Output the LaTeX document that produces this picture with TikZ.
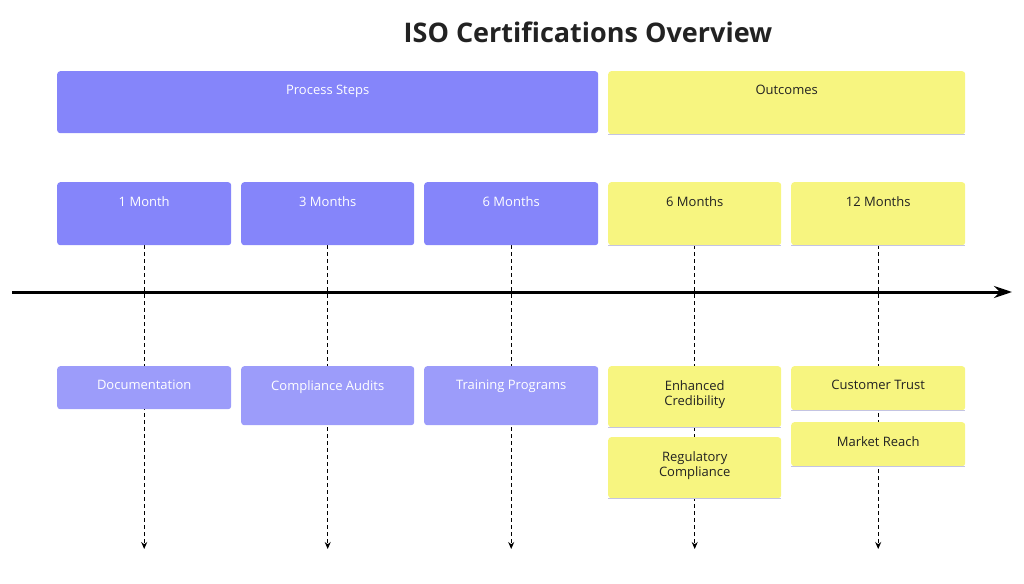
\documentclass[tikz,border=0pt]{standalone}
\usepackage{fontspec}
\setmainfont{Open Sans}
\usetikzlibrary{positioning,backgrounds,arrows.meta}
\definecolor{Purple}{RGB}{133,133,250}
\definecolor{LightPurple}{RGB}{156,156,250}
\definecolor{Yellow}{RGB}{247,245,128}
\definecolor{Edge}{RGB}{196,196,226}
\definecolor{Ink}{RGB}{34,34,34}
\newcommand{\boxtext}[3]{\parbox[t][#1pt][t]{#2pt}{\centering\vspace{14pt}#3}}
\tikzset{
  card/.style={rectangle, inner sep=0pt, anchor=north west, rounded corners=3pt, font=\fontsize{13}{15}\selectfont},
  stepcard/.style={card, fill=Purple, text=white},
  itemcard/.style={card, fill=LightPurple, text=white},
  outcard/.style={card, fill=Yellow, text=Ink, append after command={
      (\tikzlastnode.south west) edge[draw=Edge, line width=1.5pt] (\tikzlastnode.south east)}},
  guide/.style={dash pattern=on 4pt off 3pt, line width=1pt, -{Stealth[length=7pt,width=6pt]}},
}
\begin{document}
\begin{tikzpicture}[x=1pt, y=-1pt]
		\useasboundingbox (0,0) rectangle (1024,583);
		
		% Title
		\node[font=\bfseries\fontsize{27}{30}\selectfont, text=Ink] (title) at (588,32) {ISO Certifications Overview};
		
		% Headers
		\node[stepcard] (steps) at (57,71) {\boxtext{62}{541}{Process Steps}};
		\node[outcard] (outs) at (608,71) {\boxtext{63}{357}{Outcomes}};
		
		% Months
		\node[stepcard] (m1) at (57,182) {\boxtext{63}{174}{1 Month}};
		\node[stepcard] (m3) at (241,182) {\boxtext{63}{173}{3 Months}};
		\node[stepcard] (m6) at (424,182) {\boxtext{63}{174}{6 Months}};
		\node[outcard] (o6) at (608,182) {\boxtext{63}{173}{6 Months}};
		\node[outcard] (o12) at (791,182) {\boxtext{63}{174}{12 Months}};
		
		% Items
		\node[itemcard] (doc) at (57,366) {\boxtext{43}{174}{Documentation}};
		\node[itemcard] (audit) at (241,366) {\boxtext{59}{173}{Compliance Audits}};
		\node[itemcard] (train) at (424,366) {\boxtext{59}{174}{Training Programs}};
		\node[outcard] (cred) at (608,366) {\boxtext{61}{173}{Enhanced\\Credibility}};
		\node[outcard] (reg) at (608,437) {\boxtext{61}{173}{Regulatory\\Compliance}};
		\node[outcard] (trust) at (791,366) {\boxtext{44}{174}{Customer Trust}};
		\node[outcard] (reach) at (791,422) {\boxtext{44}{174}{Market Reach}};
		
		% Ends
		\coordinate (axisL) at (12,292);
		\coordinate (axisR) at (1012,292);
		\coordinate (e1) at (m1.south |- 0,549);
		\coordinate (e3) at (m3.south |- 0,549);
		\coordinate (e6) at (m6.south |- 0,549);
		\coordinate (f6) at (o6.south |- 0,549);
		\coordinate (f12) at (o12.south |- 0,549);
		
		% Flow
		\begin{scope}[on background layer]
			\draw[guide] (m1.south) -- (e1);
			\draw[guide] (m3.south) -- (e3);
			\draw[guide] (m6.south) -- (e6);
			\draw[guide] (o6.south) -- (f6);
			\draw[guide] (o12.south) -- (f12);
		\end{scope}
		\draw[line width=3pt, -{Stealth[length=18pt,width=12pt]}] (axisL) -- (axisR);
		
	\end{tikzpicture}
\end{document}
